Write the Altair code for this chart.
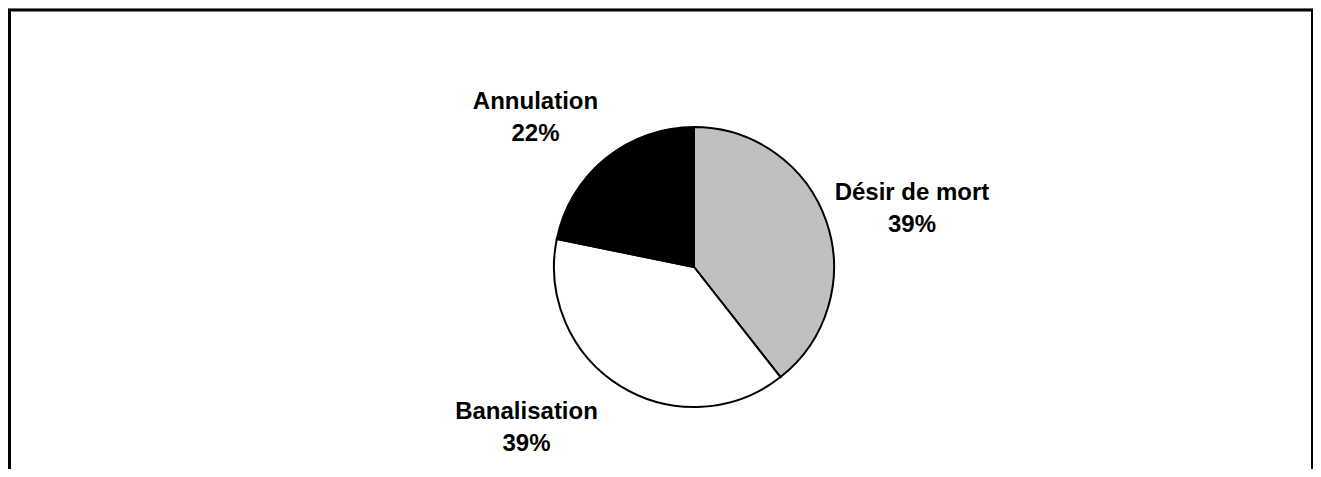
import altair as alt
import pandas as pd

categories = ["Désir de mort", "Banalisation", "Annulation"]
values = [39.4, 38.8, 21.8]
pct_labels = ["39%", "39%", "22%"]
colors = ["#C0C0C0", "#FFFFFF", "#000000"]

df = pd.DataFrame({"cat": categories, "val": values, "ord": [0, 1, 2]})

W, H = 1305, 461
CX, CY, R = 686, 259, 140

pie = alt.Chart(df).mark_arc(stroke="black", strokeWidth=2, outerRadius=R).encode(
    theta=alt.Theta("val:Q", stack=True),
    order=alt.Order("ord:Q"),
    color=alt.Color("cat:N", scale=alt.Scale(domain=categories, range=colors), legend=None),
    x=alt.value(CX),
    y=alt.value(CY),
)

label_pos = {
    "Désir de mort": (904, 185),
    "Banalisation": (518.5, 403.5),
    "Annulation": (527.5, 93.5),
}

layers = [pie]
for c, p in zip(categories, pct_labels):
    lx, ly = label_pos[c]
    layers.append(
        alt.Chart(df).transform_filter(alt.datum.cat == c).mark_text(
            font="Liberation Sans", fontWeight="bold", fontSize=24,
            lineHeight=32, align="center", baseline="middle", color="black",
        ).encode(x=alt.value(lx), y=alt.value(ly), text=alt.value([c, p]))
    )

frame_base = alt.Chart(df.head(1))
left = frame_base.mark_rule(color="black", strokeWidth=3).encode(
    x=alt.value(1.5), y=alt.value(2), y2=alt.value(H))
top = frame_base.mark_rule(color="black", strokeWidth=3).encode(
    x=alt.value(0), x2=alt.value(W), y=alt.value(2))
right = frame_base.mark_rule(color="black", strokeWidth=3).encode(
    x=alt.value(W - 0.5), y=alt.value(2), y2=alt.value(H))

chart = alt.layer(*layers, left, top, right).properties(
    width=W, height=H, padding=0,
    autosize=alt.AutoSizeParams(type="none"),
).configure_view(stroke=None).configure(background="white")

chart.save("out.html", embed_options={"renderer": "svg", "actions": False})
